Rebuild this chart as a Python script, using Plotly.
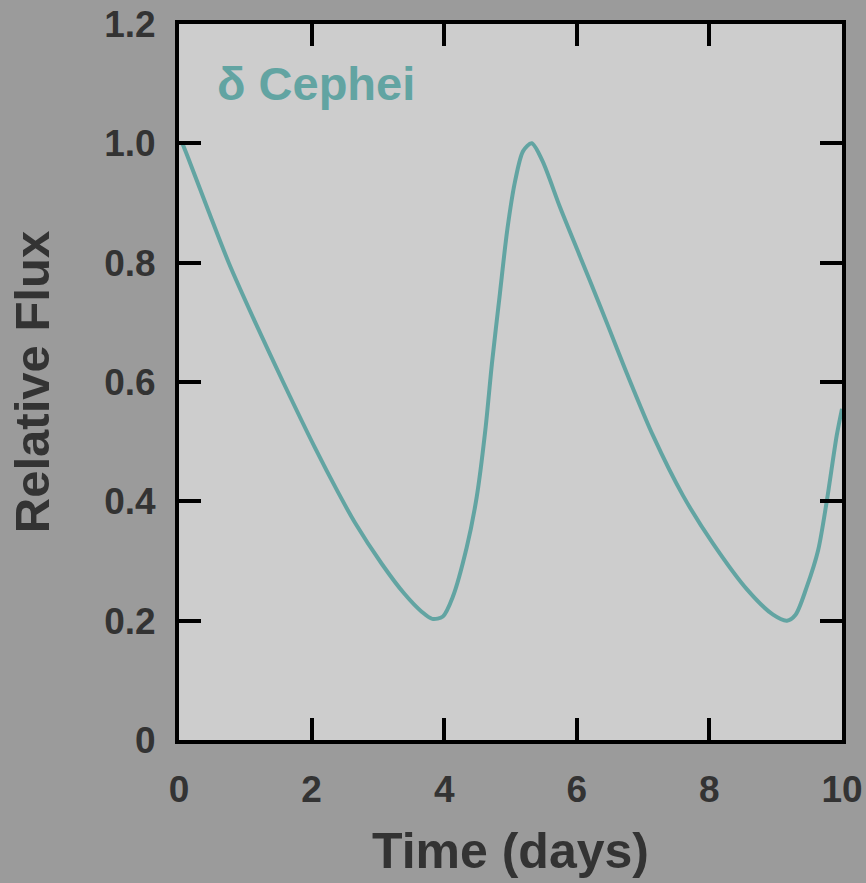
import plotly.graph_objects as go

# Light curve of delta Cephei
time_days = [0.05, 0.14, 0.45, 0.75, 1.15, 1.57, 2.05, 2.40, 2.65, 3.06, 3.40, 3.66, 3.82,
             3.98, 4.13, 4.34, 4.49, 4.62, 4.72, 4.84, 4.95, 5.07, 5.19, 5.32, 5.48, 5.75,
             6.05, 6.35, 6.61, 6.76, 7.15, 7.60, 8.05, 8.57, 8.96, 9.17, 9.30, 9.47, 9.64,
             9.77, 9.92, 10.0]
relative_flux = [1.0, 0.975, 0.885, 0.80, 0.70, 0.60, 0.49, 0.415, 0.365, 0.295, 0.245, 0.215, 0.203,
                 0.207, 0.24, 0.323, 0.407, 0.519, 0.631, 0.748, 0.854, 0.937, 0.987, 1.0, 0.971, 0.892,
                 0.81, 0.728, 0.655, 0.613, 0.51, 0.41, 0.33, 0.252, 0.21, 0.20, 0.21, 0.257, 0.318,
                 0.40, 0.51, 0.555]

x_ticks = [0, 2, 4, 6, 8, 10]
x_tick_labels = ["0", "2", "4", "6", "8", "10"]
y_ticks = [0, 0.2, 0.4, 0.6, 0.8, 1.0, 1.2]
y_tick_labels = ["0", "0.2", "0.4", "0.6", "0.8", "1.0", "1.2"]

star_label = "δ Cephei"
x_title = "Time (days)"
y_title = "Relative Flux"

teal = "#62a4a2"
text_col = "#333333"
FONT = "Liberation Sans, Arial, sans-serif"

fig = go.Figure()
fig.add_trace(go.Scatter(
    x=time_days, y=relative_flux, mode="lines",
    line=dict(color=teal, width=4, shape="spline", smoothing=0.8),
    hoverinfo="skip", showlegend=False, cliponaxis=True,
))

axis_common = dict(
    showline=True, linecolor="black", linewidth=4, mirror="ticks",
    ticks="inside", ticklen=22, tickwidth=4, tickcolor="black",
    showgrid=False, zeroline=False, automargin=False,
    tickfont=dict(family=FONT, size=37, color=text_col, weight="bold"),
)

fig.update_xaxes(
    range=[0, 10], tickmode="array", tickvals=x_ticks, ticktext=x_tick_labels,
    title=dict(text=x_title, font=dict(family=FONT, size=50, color=text_col, weight="bold"), standoff=25),
    ticklabelstandoff=14,
    **axis_common,
)
fig.update_yaxes(
    range=[0, 1.2], tickmode="array", tickvals=y_ticks, ticktext=y_tick_labels,
    title=dict(text=y_title, font=dict(family=FONT, size=49, color=text_col, weight="bold"), standoff=40),
    ticklabelstandoff=12,
    **axis_common,
)

fig.add_annotation(
    x=0.54, y=1.10, xref="x", yref="y", text=star_label, showarrow=False,
    xanchor="left", yanchor="middle",
    font=dict(family=FONT, size=47, color=teal, weight="bold"),
)

fig.update_layout(
    width=866, height=883,
    margin=dict(l=179, r=24, t=24, b=143, autoexpand=False),
    paper_bgcolor="#9b9b9b", plot_bgcolor="#cdcdcd",
)

fig.write_html("out.html", config={"displayModeBar": False},
               post_script="document.body.style.margin='0';document.body.style.padding='0';")
